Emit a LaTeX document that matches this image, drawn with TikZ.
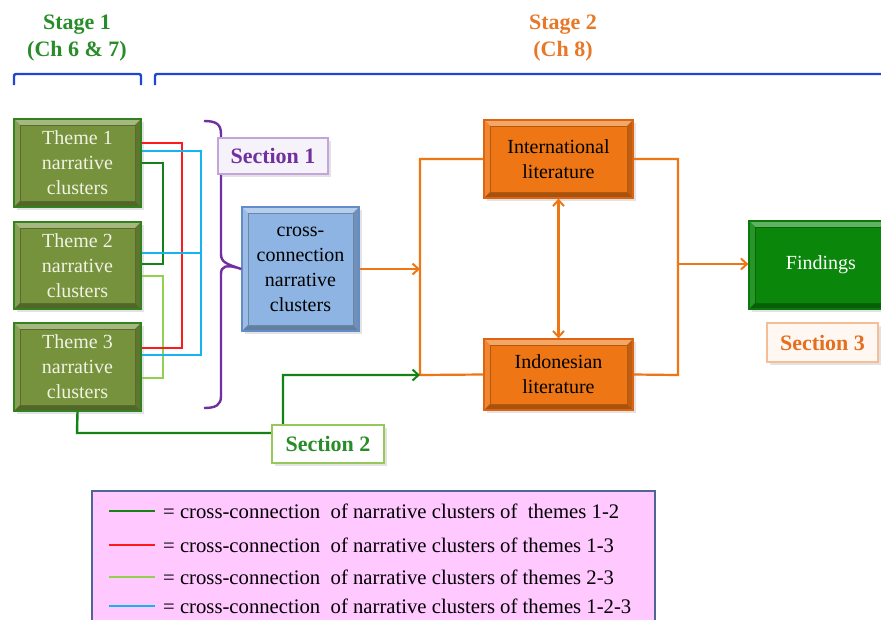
\documentclass[tikz,border=0pt]{standalone}
\usepackage{fontspec}
\setmainfont{Liberation Serif}
\usetikzlibrary{arrows.meta,shadows,calc}
\definecolor{cTheme}{RGB}{118,146,60}
\definecolor{cThemeB}{RGB}{50,130,30}
\definecolor{cThemeT}{RGB}{242,242,228}
\definecolor{cCross}{RGB}{141,180,226}
\definecolor{cCrossB}{RGB}{100,140,200}
\definecolor{cOr}{RGB}{238,118,20}
\definecolor{cOrB}{RGB}{222,100,20}
\definecolor{cFind}{RGB}{10,135,10}
\definecolor{cFindB}{RGB}{10,120,10}
\definecolor{cRed}{RGB}{255,25,25}
\definecolor{cCyan}{RGB}{20,180,240}
\definecolor{cDkG}{RGB}{20,130,20}
\definecolor{cLtG}{RGB}{146,208,80}
\definecolor{cPurp}{RGB}{112,48,160}
\definecolor{cPurpL}{RGB}{195,165,220}
\definecolor{cBlue}{RGB}{30,70,210}
\definecolor{cStG}{RGB}{40,140,40}
\definecolor{cStO}{RGB}{232,120,40}
\definecolor{cPink}{RGB}{255,200,255}
\definecolor{cLegB}{RGB}{80,100,150}
\definecolor{cSecTwoB}{RGB}{150,200,90}
\definecolor{cSecThreeB}{RGB}{245,190,150}
\definecolor{cSecThreeT}{RGB}{230,110,30}
\tikzset{
  bevel/.style={path picture={
    \coordinate (bsw) at (path picture bounding box.south west);
    \coordinate (bne) at (path picture bounding box.north east);
    \coordinate (bnw) at (bsw |- bne);
    \coordinate (bse) at (bne |- bsw);
    \coordinate (isw) at ([shift={(6pt,6pt)}]bsw);
    \coordinate (ine) at ([shift={(-6pt,-6pt)}]bne);
    \coordinate (inw) at ([shift={(6pt,-6pt)}]bnw);
    \coordinate (ise) at ([shift={(-6pt,6pt)}]bse);
    \fill[#1!65!white] (bnw)--(bne)--(ine)--(inw)--cycle;
    \fill[#1!88!white] (bnw)--(inw)--(isw)--(bsw)--cycle;
    \fill[#1!80!black] (bne)--(bse)--(ise)--(ine)--cycle;
    \fill[#1!70!black] (bsw)--(isw)--(ise)--(bse)--cycle;
    \draw[#1!75!black, line width=0.6pt] (isw) rectangle (ine);
  }},
  fnt/.style={font=\fontsize{20}{25}\selectfont},
  shd/.style={drop shadow={shadow xshift=2.5pt,shadow yshift=-2.5pt,opacity=0.22}},
  bx/.style 2 args={draw=#2, line width=1.2pt, fill=#1, bevel=#1, shd,
    inner sep=0pt, align=center, fnt},
  lab/.style={draw=#1, line width=1.4pt, fill=white, shd, inner sep=0pt,
    font=\bfseries\fontsize{22}{26}\selectfont},
  stg/.style={font=\bfseries\fontsize{22}{27}\selectfont, align=center},
  conn/.style={line width=2.4pt},
  orl/.style={draw=cOr, line width=2.2pt},
  tip/.style={-{Straight Barb[length=6pt,width=11pt,line width=2pt]}},
  legtxt/.style={anchor=west, font=\fontsize{20.7}{24}\selectfont, inner sep=0pt},
}
\begin{document}
\begin{tikzpicture}[x=1pt,y=-1pt]
\useasboundingbox (0,0) rectangle (881,619);
\fill[white] (0,0) rectangle (881,619);

% stage titles
\node[stg, text=cStG] (st1) at (77,38) {Stage 1\\(Ch 6 \& 7)};
\node[stg, text=cStO] (st2) at (563,38) {Stage 2\\(Ch 8)};
\draw[cBlue, line width=2.4pt, rounded corners=2pt] (14,85) -- (14,74) -- (141,74) -- (141,85);
\draw[cBlue, line width=2.4pt, rounded corners=2pt] (155,85) -- (155,74) -- (885,74);

% legend
\draw[cLegB, fill=cPink, line width=1.6pt] (92,491) rectangle (655,630);
\coordinate (l1a) at (109,511); \coordinate (l1b) at (155,511);
\coordinate (l2a) at (109,545); \coordinate (l2b) at (155,545);
\coordinate (l3a) at (109,577); \coordinate (l3b) at (155,577);
\coordinate (l4a) at (109,606); \coordinate (l4b) at (155,606);
\draw[cDkG, line width=2.4pt] (l1a) -- (l1b);
\draw[cRed, line width=2.4pt] (l2a) -- (l2b);
\draw[cLtG, line width=2.4pt] (l3a) -- (l3b);
\draw[cCyan, line width=2.4pt] (l4a) -- (l4b);
\node[legtxt] (lg1) at (163,511) {= cross-connection\ \ of narrative clusters of\ \ themes 1-2};
\node[legtxt] (lg2) at (163,545) {= cross-connection\ \ of narrative clusters of themes 1-3};
\node[legtxt] (lg3) at (163,577) {= cross-connection\ \ of narrative clusters of themes 2-3};
\node[legtxt] (lg4) at (163,606) {= cross-connection\ \ of narrative clusters of themes 1-2-3};

% theme boxes
\node[bx={cTheme}{cThemeB}, minimum width=127pt, minimum height=88pt, text=cThemeT] (t1) at (77.5,163) {Theme 1\\narrative\\clusters};
\node[bx={cTheme}{cThemeB}, minimum width=127pt, minimum height=87pt, text=cThemeT] (t2) at (77.5,265.5) {Theme 2\\narrative\\clusters};
\node[bx={cTheme}{cThemeB}, minimum width=127pt, minimum height=88pt, text=cThemeT] (t3) at (77.5,367) {Theme 3\\narrative\\clusters};

% cross connectors
\draw[conn, cDkG] (t1.east |- 0,163) -- (163,163) -- (163,264) -- (t2.east |- 0,264);
\draw[conn, cLtG] (t2.east |- 0,276) -- (163,276) -- (163,378) -- (t3.east |- 0,378);
\draw[conn, cRed] (t1.east |- 0,143) -- (182,143) -- (182,348) -- (t3.east |- 0,348);
\draw[conn, cCyan] (t1.east |- 0,151) -- (201,151) -- (201,355) -- (t3.east |- 0,355);
\draw[conn, cCyan] (t2.east |- 0,253) -- (201,253);

% cross-connection box
\node[bx={cCross}{cCrossB}, minimum width=117pt, minimum height=124pt] (cx) at (300.5,269) {cross-\\connection\\narrative\\clusters};

% purple brace
\draw[cPurp, line width=2.4pt] (204,121) .. controls (216,121) and (221,124) .. (221,134)
  -- (221,254) .. controls (221,262) and (226,264) .. (cx.west)
  (cx.west) .. controls (226,264) and (221,266) .. (221,274)
  -- (221,396) .. controls (221,405) and (216,408) .. (204,408);

\node[lab=cPurpL, fill=cPurpL!15, text=cPurp, minimum width=110pt, minimum height=36pt] (s1) at (273,156) {Section 1};

% literature boxes
\node[bx={cOr}{cOrB}, minimum width=149pt, minimum height=78pt] (intl) at (558.5,159) {International\\literature};
\node[bx={cOr}{cOrB}, minimum width=149pt, minimum height=71pt] (indo) at (558.5,374.5) {Indonesian\\literature};
\node[bx={cFind}{cFindB}, minimum width=144pt, minimum height=88pt, text=white] (find) at (821,265) {Findings};

\coordinate (busN) at (420,159);
\coordinate (busS) at (420,375);
\coordinate (busM) at (420,269);
\coordinate (rbN) at (678,159);
\coordinate (rbS) at (678,375);
\coordinate (rbM) at (678,264);

\draw[orl] (intl.west) -- (busN) -- (busS) -- (indo.west);
\draw[orl, tip] (cx.east) -- (busM);
\draw[orl] (intl.east) -- (rbN) -- (rbS) -- (indo.east);
\draw[orl, tip] (rbM) -- (find.west |- rbM);
\draw[orl, {Straight Barb[length=6pt,width=11pt,line width=2pt]}-{Straight Barb[length=6pt,width=11pt,line width=2pt]}] (intl.south) -- (indo.north);

% section 2 path
\draw[conn, cDkG, tip] (t3.south) -- (77,433) -- (283,433) -- (283,375) -- (busS);
\node[lab=cSecTwoB, text=cStG, minimum width=112pt, minimum height=38pt] (s2) at (328,444) {Section 2};

\node[lab=cSecThreeB, fill=cSecThreeB!12, text=cSecThreeT, minimum width=111pt, minimum height=39pt] (s3) at (822.5,342.5) {Section 3};
\end{tikzpicture}
\end{document}
